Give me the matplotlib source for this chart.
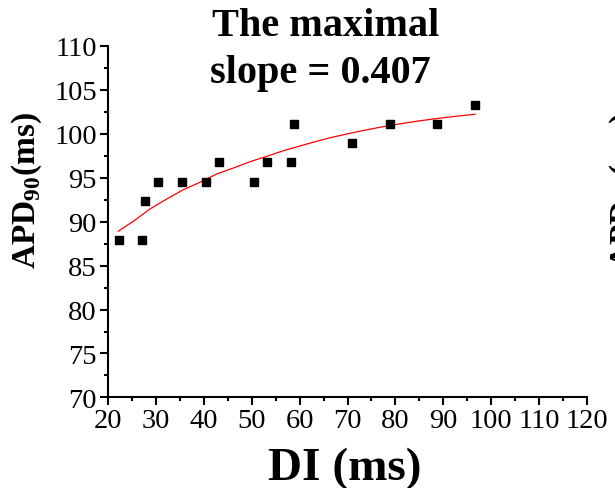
import matplotlib
matplotlib.use("Agg")
from matplotlib import pyplot as plt
from matplotlib.ticker import MultipleLocator

# measured restitution points (DI, APD90)
di = [22.2, 27.2, 27.7, 30.5, 35.5, 40.4, 43.2, 50.4, 53.2, 58.1, 58.8, 71.0, 78.8, 88.7, 96.6]
apd = [87.95, 87.95, 92.36, 94.55, 94.55, 94.55, 96.76, 94.55, 96.76, 96.76, 101.12, 98.92, 101.12, 101.12, 103.32]

# fitted curve
fit_di = [22.15, 25.28, 28.77, 32.25, 35.72, 39.21, 42.69, 46.16, 49.65, 53.13, 56.60,
          60.08, 62.86, 66.3, 69.83, 73.3, 76.78, 80.3, 83.74, 87.2, 90.71, 93.7, 96.62]
fit_apd = [88.91, 90.05, 91.45, 92.58, 93.64, 94.49, 95.43, 96.11, 96.83, 97.44, 98.08,
           98.62, 99.05, 99.55, 99.98, 100.38, 100.75, 101.08, 101.38, 101.64, 101.88, 102.06, 102.23]

xticks = [20, 30, 40, 50, 60, 70, 80, 90, 100, 110, 120]
yticks = [70, 75, 80, 85, 90, 95, 100, 105, 110]

plt.rcParams['font.family'] = ['Liberation Serif', 'DejaVu Serif']
plt.rcParams['mathtext.fontset'] = 'custom'
plt.rcParams['mathtext.rm'] = 'Liberation Serif'
plt.rcParams['mathtext.bf'] = 'Liberation Serif:bold'

fig = plt.figure(figsize=(6.15, 4.89), dpi=100)
ax = fig.add_axes([0.1756, 0.1853, 0.7789, 0.7186])

ax.plot(fit_di, fit_apd, color='red', lw=0.9, zorder=2)
ax.plot(di, apd, ls='none', marker='s', ms=5.4, color='black', zorder=3)

ax.set_xlim(20, 120)
ax.set_ylim(70, 110)
ax.set_xticks(xticks)
ax.set_yticks(yticks)
ax.xaxis.set_minor_locator(MultipleLocator(5))
ax.yaxis.set_minor_locator(MultipleLocator(2.5))

for side in ['top', 'right']:
    ax.spines[side].set_visible(False)
for side in ['left', 'bottom']:
    ax.spines[side].set_linewidth(1.5)

ax.tick_params(which='major', direction='out', length=6, width=1.5, labelsize=20.5, pad=2)
ax.tick_params(which='minor', direction='out', length=3, width=1.5)

# title (two lines, slightly left of the axes centre)
fig.text(326 / 615, 1 - 36 / 489, "The maximal", ha='center', va='baseline',
         fontsize=29, fontweight='bold')
fig.text(320 / 615, 1 - 83 / 489, "slope = 0.407", ha='center', va='baseline',
         fontsize=29, fontweight='bold')

fig.text(345 / 615, 1 - 480 / 489, "DI (ms)", ha='center', va='baseline',
         fontsize=34, fontweight='bold')

ylab = r"APD$_{\mathbf{90}}$(ms)"
fig.text(26.7 / 615, 1 - 191 / 489, ylab, rotation=90, ha='center', va='center',
         fontsize=24, fontweight='bold')
# label of the neighbouring panel, cut at the right edge
fig.text(625 / 615, 1 - 191 / 489, ylab, rotation=90, ha='center', va='center',
         fontsize=24, fontweight='bold')

fig.savefig("out.png", dpi=100)
